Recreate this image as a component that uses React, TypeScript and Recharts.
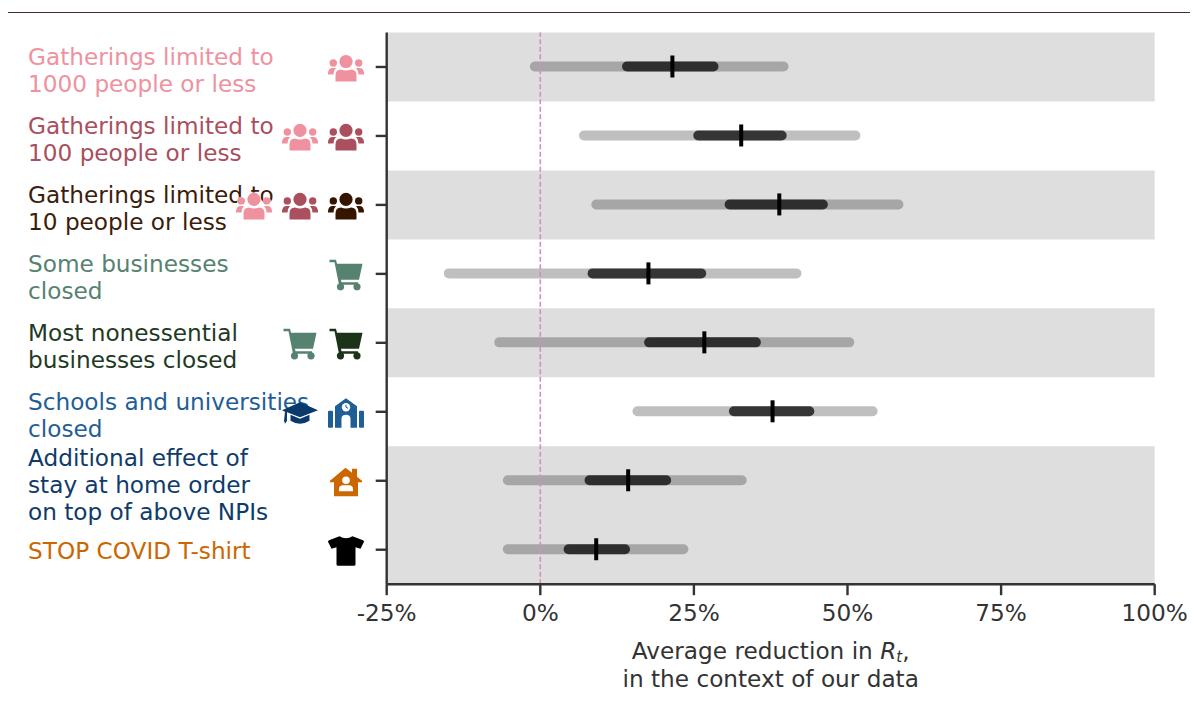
import React from "react";
import { ComposedChart, Bar, XAxis, YAxis, ReferenceArea, ReferenceLine, Label } from "recharts";

// ---------- data ----------
const categories = ["g1000", "g100", "g10", "someBiz", "mostBiz", "schools", "stayHome", "tshirt"];
const categoryLines = [
  ["Gatherings limited to", "1000 people or less"],
  ["Gatherings limited to", "100 people or less"],
  ["Gatherings limited to", "10 people or less"],
  ["Some businesses", "closed"],
  ["Most nonessential", "businesses closed"],
  ["Schools and universities", "closed"],
  ["Additional effect of", "stay at home order", "on top of above NPIs"],
  ["STOP COVID T-shirt"],
];
const low95 = [-1.7, 6.3, 8.3, -15.7, -7.5, 15, -6.1, -6.1];
const high95 = [40.4, 52.1, 59.1, 42.5, 51.1, 54.9, 33.6, 24.1];
const low50 = [13.3, 24.9, 30, 7.7, 16.9, 30.7, 7.2, 3.8];
const high50 = [29, 40.1, 46.8, 27, 35.9, 44.6, 21.3, 14.6];
const medians = [21.5, 32.7, 38.9, 17.6, 26.7, 37.8, 14.3, 9.1];
const xTicks = [-25, 0, 25, 50, 75, 100];
const shadedFrom = ["g1000", "g10", "mostBiz", "stayHome"];
const shadedTo = ["g1000", "g10", "mostBiz", "tshirt"];
const rowIcons = [
  ["usersPink"],
  ["usersPink", "usersMaroon"],
  ["usersPink", "usersMaroon", "usersBrown"],
  ["cartLight"],
  ["cartLight", "cartDark"],
  ["cap", "school"],
  ["house"],
  ["shirt"],
];

const table = categories.map((key, i) => ({
  key,
  ci95: [low95[i], high95[i]],
  ci50: [low50[i], high50[i]],
  median: [medians[i], medians[i]],
}));

// ---------- styles ----------
const FONT = "'DejaVu Sans', sans-serif";
const INK = "#333333";
const TEXT = "#333333";
const FONT_SIZE = 23.2;
const labelColors = ["#f0919f", "#a94f5e", "#3b1d0b", "#568270", "#1f3a24", "#1f5e96", "#0f3b6b", "#cc6600"];
const iconColors: Record<string, string> = {
  usersPink: "#f0919f",
  usersMaroon: "#a94f5e",
  usersBrown: "#361500",
  cartLight: "#568270",
  cartDark: "#1a3319",
  cap: "#0a3a6c",
  school: "#1f5e96",
  house: "#cc6600",
  shirt: "#000000",
};

function Glyph({ kind, color }: { kind: string; color: string }) {
  const halo = { stroke: "#ffffff", strokeWidth: 0.8, paintOrder: "stroke" as const };
  if (kind.startsWith("users")) {
    return (
      <g fill={color} {...halo}>
        <circle cx={0} cy={-6.5} r={6.6} />
        <circle cx={-12.7} cy={-5} r={3.7} />
        <circle cx={12.7} cy={-5} r={3.7} />
        <path d="M-10.5,13 L-10.5,7.5 Q-10.5,1.5 -5,1.5 Q0,3.5 5,1.5 Q10.5,1.5 10.5,7.5 L10.5,13 Q10.5,13.5 9.5,13.5 L-9.5,13.5 Q-10.5,13.5 -10.5,13 Z" />
        <path d="M-12.5,6.5 L-18,6.5 Q-18,0 -14,0 L-10,0 Q-12.5,2.5 -12.5,6.5 Z" />
        <path d="M12.5,6.5 L18,6.5 Q18,0 14,0 L10,0 Q12.5,2.5 12.5,6.5 Z" />
      </g>
    );
  }
  if (kind.startsWith("cart")) {
    return (
      <g fill={color}>
        <path d="M-16.5,-15 L-10,-15 L-9,-11 L16.5,-11 L13,5 L-5,5 L-4.5,7.5 L12,7.5 L12,10 L-7,10 L-11.5,-12.5 L-16.5,-12.5 Z" />
        <circle cx={-5.5} cy={12} r={3.6} />
        <circle cx={11} cy={12} r={3.6} />
      </g>
    );
  }
  if (kind === "cap") {
    return (
      <g fill={color}>
        <path d="M-18,-2.5 L0,-10.5 L18,-2.5 L0,4.5 L-13,-0.5 L-13,8 L-15,11 L-16,8 L-15,-1 Z" />
        <path d="M-9.5,2 L0,6 L9.5,2 L9.5,8 Q0,14 -9.5,8 Z" />
      </g>
    );
  }
  if (kind === "school") {
    return (
      <g>
        <path fill={color} d="M0,-14.5 L11,-6.5 L11,15 L4.5,15 L4.5,6 Q4.5,2 0,2 Q-4.5,2 -4.5,6 L-4.5,15 L-11,15 L-11,-6.5 Z" />
        <rect fill={color} x={-18} y={-2} width={5} height={17} rx={1} />
        <rect fill={color} x={13} y={-2} width={5} height={17} rx={1} />
        <circle cx={0} cy={-5.5} r={4.2} fill="#ffffff" />
        <path d="M0,-8 L0,-5.5 L2,-4.5" stroke={color} strokeWidth={1} fill="none" />
      </g>
    );
  }
  if (kind === "house") {
    return (
      <g>
        <path fill={color} d="M-0.5,-14 L6,-9 L6,-13 L11,-13 L11,-5 L16,-1 L16,0.5 L12,0.5 L12,14.5 L-12,14.5 L-12,0.5 L-16,0.5 L-16,-1 Z" />
        <circle cx={0} cy={-1.5} r={3.8} fill="#ffffff" />
        <path fill="#ffffff" d="M-7,9.5 L-7,7 Q-7,3.5 -3,3.5 L3,3.5 Q7,3.5 7,7 L7,9.5 Z" />
      </g>
    );
  }
  return (
    <path
      fill={color}
      d="M-6.5,-14.5 Q0,-10.5 6.5,-14.5 L17,-10.5 Q18,-10 18,-9 L14.5,-2 L9.5,-3.5 L9.5,13.5 Q9.5,15 8,15 L-8,15 Q-9.5,15 -9.5,13.5 L-9.5,-3.5 L-14.5,-2 L-18,-9 Q-18,-10 -17,-10.5 Z"
    />
  );
}

function RowTick(props: any) {
  const { y, payload, index } = props;
  const i = index ?? categories.indexOf(payload.value);
  const lines = categoryLines[i];
  const icons = rowIcons[i];
  const lineHeight = 27;
  const firstBaseline = y + 9.5 - ((lines.length - 1) * lineHeight) / 2 + (lines.length === 2 ? 2.5 : lines.length === 3 ? 3 : 0);
  return (
    <g>
      <text fontFamily={FONT} fontSize={FONT_SIZE} fill={labelColors[i]} textAnchor="start">
        {lines.map((ln: string, k: number) => (
          <tspan key={k} x={20} y={firstBaseline + k * lineHeight}>
            {ln}
          </tspan>
        ))}
      </text>
      {icons.map((kind: string, k: number) => (
        <g key={kind} transform={`translate(${338 - (icons.length - 1 - k) * 46},${y + 1})`}>
          <Glyph kind={kind} color={iconColors[kind]} />
        </g>
      ))}
    </g>
  );
}

function MedianMark(props: any) {
  const { x, y, width, height } = props;
  const mid = y + height / 2;
  return <rect x={x + width / 2 - 2} y={mid - 11} width={4} height={22} fill="#000000" />;
}

function AxisTitle(props: any) {
  const { viewBox } = props;
  const cx = viewBox.x + viewBox.width / 2;
  const top = viewBox.y;
  return (
    <text fontFamily={FONT} fontSize={FONT_SIZE} fill={TEXT} textAnchor="middle">
      <tspan x={cx} y={top + 74.5}>
        Average reduction in <tspan fontStyle="italic">R</tspan>
        <tspan fontStyle="italic" fontSize={15} dy={3}>t</tspan>
        <tspan dy={-3}>,</tspan>
      </tspan>
      <tspan x={cx} y={top + 103}>in the context of our data</tspan>
    </text>
  );
}

export default function App() {
  return (
    <div style={{ position: "relative", width: 1190, height: 690 }}>
      <div style={{ position: "absolute", left: 0, top: 4, width: 1190, height: 1, background: "#4a2a2c" }} />
      <ComposedChart
        width={1190}
        height={690}
        data={table}
        layout="vertical"
        margin={{ top: 24.5, right: 43.3, bottom: 0, left: 0 }}
        barSize={10}
        barGap={-10}
      >
        {shadedFrom.map((c, i) => (
          <ReferenceArea key={c} y1={c} y2={shadedTo[i]} fill="#dedede" fillOpacity={1} stroke="none" ifOverflow="extendDomain" />
        ))}
        <ReferenceLine x={0} stroke="#cf8fc0" strokeWidth={1.6} strokeDasharray="5 2.5" />
        <XAxis
          type="number"
          domain={[-25, 100]}
          ticks={xTicks}
          allowDataOverflow
          height={113.8}
          tickSize={11}
          tickMargin={9}
          tickFormatter={(v: number) => `${v}%`}
          tick={{ fontFamily: FONT, fontSize: FONT_SIZE, fill: TEXT }}
          axisLine={{ stroke: INK, strokeWidth: 2.4 }}
          tickLine={{ stroke: INK, strokeWidth: 2.4 }}
        >
          <Label content={AxisTitle} />
        </XAxis>
        <YAxis
          type="category"
          dataKey="key"
          width={378.7}
          tickSize={11}
          interval={0}
          tick={RowTick}
          axisLine={{ stroke: INK, strokeWidth: 2.4 }}
          tickLine={{ stroke: INK, strokeWidth: 2.4 }}
        />
        <Bar dataKey="ci95" fill="#000000" fillOpacity={0.25} radius={5} isAnimationActive={false} />
        <Bar dataKey="ci50" fill="#000000" fillOpacity={0.72} radius={5} isAnimationActive={false} />
        <Bar dataKey="median" shape={MedianMark} isAnimationActive={false} />
      </ComposedChart>
    </div>
  );
}
